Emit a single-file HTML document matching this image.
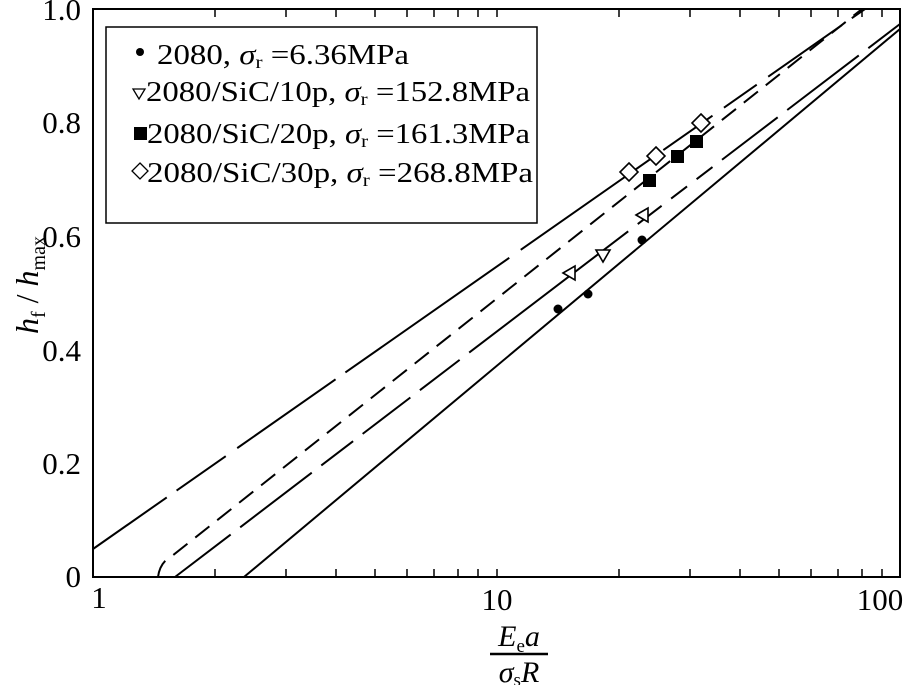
<!DOCTYPE html>
<html><head><meta charset="utf-8"><style>
html,body{margin:0;padding:0;background:#fff;}
svg{display:block;font-family:"Liberation Serif",serif;}
</style></head><body>
<svg width="907" height="685" viewBox="0 0 907 685" xmlns="http://www.w3.org/2000/svg">
<rect x="0" y="0" width="907" height="685" fill="#fff"/>
<rect x="93" y="9" width="807" height="568" fill="none" stroke="#000" stroke-width="2"/>
<g stroke="#000" stroke-width="1.5">
<line x1="215" y1="577" x2="215" y2="569"/><line x1="215" y1="9" x2="215" y2="17"/>
<line x1="286" y1="577" x2="286" y2="569"/><line x1="286" y1="9" x2="286" y2="17"/>
<line x1="336" y1="577" x2="336" y2="569"/><line x1="336" y1="9" x2="336" y2="17"/>
<line x1="375" y1="577" x2="375" y2="569"/><line x1="375" y1="9" x2="375" y2="17"/>
<line x1="407" y1="577" x2="407" y2="569"/><line x1="407" y1="9" x2="407" y2="17"/>
<line x1="434" y1="577" x2="434" y2="569"/><line x1="434" y1="9" x2="434" y2="17"/>
<line x1="458" y1="577" x2="458" y2="569"/><line x1="458" y1="9" x2="458" y2="17"/>
<line x1="478" y1="577" x2="478" y2="569"/><line x1="478" y1="9" x2="478" y2="17"/>
<line x1="497" y1="577" x2="497" y2="569"/><line x1="497" y1="9" x2="497" y2="17"/>
<line x1="619" y1="577" x2="619" y2="569"/><line x1="619" y1="9" x2="619" y2="17"/>
<line x1="690" y1="577" x2="690" y2="569"/><line x1="690" y1="9" x2="690" y2="17"/>
<line x1="740" y1="577" x2="740" y2="569"/><line x1="740" y1="9" x2="740" y2="17"/>
<line x1="779" y1="577" x2="779" y2="569"/><line x1="779" y1="9" x2="779" y2="17"/>
<line x1="811" y1="577" x2="811" y2="569"/><line x1="811" y1="9" x2="811" y2="17"/>
<line x1="838" y1="577" x2="838" y2="569"/><line x1="838" y1="9" x2="838" y2="17"/>
<line x1="862" y1="577" x2="862" y2="569"/><line x1="862" y1="9" x2="862" y2="17"/>
<line x1="882" y1="577" x2="882" y2="569"/><line x1="882" y1="9" x2="882" y2="17"/>
</g>
<g fill="none" stroke="#000" stroke-width="2">
<path d="M93,549 L865,9" stroke-dasharray="90,12,60,14,120,12,200,14,160,14,60,14,40,14"/>
<path d="M158,577 Q160,562 172,556 L862,9" stroke-dasharray="18,10"/>
<path d="M175,577 L900,24" stroke-dasharray="70,12,90,12,40,12,60,12,50,12,200,12,30,12,20,12,20,12"/>
<path d="M244,577 L900,29"/>
</g>
<g fill="#000">
<circle cx="558" cy="309" r="4.5"/><circle cx="588" cy="294" r="4.5"/><circle cx="642" cy="240" r="4.5"/>
<rect x="643" y="174" width="13" height="13"/><rect x="671" y="150" width="13" height="13"/><rect x="690" y="135" width="13" height="13"/>
</g>
<g fill="#fff" stroke="#000" stroke-width="1.6">
<polygon points="563,273 575,266 575,280"/>
<polygon points="596,250 610,250 603,262"/>
<polygon points="636,215 648,208 648,222"/>
<polygon points="629,163 638,172 629,181 620,172"/>
<polygon points="656,147 665,156 656,165 647,156"/>
<polygon points="701,114 710,123 701,132 692,123"/>
</g>
<rect x="106" y="27" width="431" height="196" fill="#fff" stroke="#000" stroke-width="1.5"/>
<g font-size="28" fill="#000">
<circle cx="140" cy="52" r="4" fill="#000"/>
<text x="157" y="64" textLength="252" lengthAdjust="spacingAndGlyphs">2080, <tspan font-style="italic">σ</tspan><tspan font-size="18" dy="4">r</tspan><tspan dy="-4"> =6.36MPa</tspan></text>
<polygon points="133,89 145,89 139,99" fill="#fff" stroke="#000" stroke-width="1.3"/>
<text x="146" y="101" textLength="384" lengthAdjust="spacingAndGlyphs">2080/SiC/10p, <tspan font-style="italic">σ</tspan><tspan font-size="18" dy="4">r</tspan><tspan dy="-4"> =152.8MPa</tspan></text>
<rect x="134" y="127" width="13" height="13" fill="#000"/>
<text x="147" y="143" textLength="383" lengthAdjust="spacingAndGlyphs">2080/SiC/20p, <tspan font-style="italic">σ</tspan><tspan font-size="18" dy="4">r</tspan><tspan dy="-4"> =161.3MPa</tspan></text>
<polygon points="140,163 148,171 140,179 132,171" fill="#fff" stroke="#000" stroke-width="1.3"/>
<text x="147" y="182" textLength="386" lengthAdjust="spacingAndGlyphs">2080/SiC/30p, <tspan font-style="italic">σ</tspan><tspan font-size="18" dy="4">r</tspan><tspan dy="-4"> =268.8MPa</tspan></text>
</g>
<g font-size="31" fill="#000" text-anchor="end">
<text x="81" y="20">1.0</text>
<text x="81" y="133">0.8</text>
<text x="81" y="247">0.6</text>
<text x="81" y="361">0.4</text>
<text x="81" y="474">0.2</text>
<text x="81" y="587">0</text>
</g>
<g font-size="31" fill="#000" text-anchor="middle">
<text x="99" y="608">1</text>
<text x="497" y="610">10</text>
<text x="880" y="610">100</text>
</g>
<text transform="translate(38,285) rotate(-90)" font-size="32" text-anchor="middle" fill="#000"><tspan font-style="italic">h</tspan><tspan font-size="20" dy="7">f</tspan><tspan dy="-7"> / </tspan><tspan font-style="italic">h</tspan><tspan font-size="20" dy="7">max</tspan></text>
<text x="519" y="646" font-size="30" text-anchor="middle" fill="#000"><tspan font-style="italic">E</tspan><tspan font-size="19" dy="6">e</tspan><tspan dy="-6" font-style="italic">a</tspan></text>
<line x1="490" y1="654" x2="548" y2="654" stroke="#000" stroke-width="2.5"/>
<text x="519" y="682" font-size="30" text-anchor="middle" fill="#000"><tspan font-style="italic">σ</tspan><tspan font-size="19" dy="4">s</tspan><tspan dy="-4" font-style="italic">R</tspan></text>
</svg>
</body></html>
